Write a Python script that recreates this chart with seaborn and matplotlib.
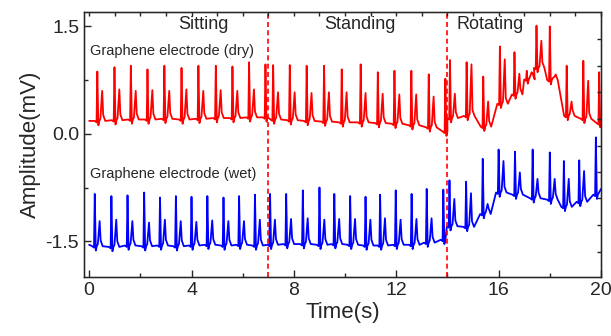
import numpy as np
import pandas as pd
import matplotlib
matplotlib.use("Agg")
import matplotlib.pyplot as plt
import seaborn as sns

# ---------------- data ----------------
# red trace: Graphene electrode (dry)
red_r_time = [0.32, 0.99, 1.63, 2.28, 2.94, 3.61, 4.27, 4.95, 5.60, 6.25, 6.89,
              7.19, 7.84, 8.50, 9.18, 9.87, 10.61, 11.28, 11.93, 12.59, 13.27, 13.92,
              14.10, 14.75, 15.40, 16.05, 16.62, 17.10, 17.48, 18.00, 18.66, 19.31, 19.93]
red_r_amp = [0.87, 0.93, 0.95, 0.90, 0.95, 0.92, 0.95, 0.95, 0.94, 1.00, 0.97,
             0.96, 0.96, 0.95, 0.95, 0.90, 0.97, 0.86, 0.88, 0.88, 0.83, 0.77,
             1.03, 1.00, 0.80, 1.22, 1.14, 0.88, 1.51, 1.50, 0.95, 1.02, 0.86]
red_t_amp = [0.60, 0.62, 0.60, 0.61, 0.60, 0.62, 0.60, 0.61, 0.60, 0.62, np.nan,
             0.58, 0.58, 0.57, 0.58, 0.58, 0.57, 0.56, 0.55, 0.55, 0.52, np.nan,
             0.56, 0.97, 0.45, 1.04, 0.84, 0.86, 1.30, 0.80, 0.45, 0.74, np.nan]
red_base = [0.18, 0.19, 0.20, 0.20, 0.21, 0.20, 0.21, 0.22, 0.22, 0.23, 0.23,
            0.20, 0.19, 0.18, 0.17, 0.16, 0.16, 0.15, 0.14, 0.12, 0.09, 0.03,
            0.22, 0.25, 0.10, 0.42, 0.55, 0.76, 0.92, 0.75, 0.25, 0.21, 0.15]
red_start, red_end = 0.18, 0.11

# blue trace: Graphene electrode (wet)
blue_r_time = [0.22, 0.87, 1.50, 2.15, 2.77, 3.39, 4.00, 4.62, 5.25, 5.86, 6.48,
               7.07, 7.70, 8.35, 9.00, 9.58, 10.20, 10.80, 11.37, 11.98, 12.60, 13.19, 13.84,
               14.08, 14.73, 15.38, 16.00, 16.64, 17.33, 18.00, 18.55, 19.15, 19.80]
blue_r_amp = [-0.84, -0.87, -0.86, -0.82, -0.89, -0.87, -0.88, -0.87, -0.89, -0.87, -0.85,
              -0.84, -0.84, -0.79, -0.75, -0.84, -0.87, -0.88, -0.85, -0.79, -0.84, -0.77, -0.78,
              -0.65, -0.67, -0.35, -0.22, -0.25, -0.22, -0.26, -0.38, -0.37, -0.05]
blue_t_amp = [-1.22, -1.20, -1.22, -1.24, -1.20, -1.22, -1.23, -1.21, -1.22, -1.22, -1.20,
              -1.20, -1.19, -1.18, -1.20, -1.19, -1.19, -1.20, -1.18, -1.20, -1.19, -1.18, np.nan,
              -0.91, -0.83, -0.98, -0.38, -0.54, -0.63, -0.63, -0.63, -0.52, np.nan]
blue_base = [-1.57, -1.58, -1.56, -1.57, -1.56, -1.57, -1.56, -1.55, -1.56, -1.55, -1.56,
             -1.55, -1.54, -1.54, -1.55, -1.54, -1.55, -1.56, -1.56, -1.55, -1.55, -1.52, -1.48,
             -1.29, -1.30, -1.12, -0.82, -0.85, -0.90, -0.92, -1.02, -0.95, -0.85]
blue_start, blue_end = -1.55, -0.77

phase_split = [7, 14]
phase_names = ["Sitting", "Standing", "Rotating"]
phase_label_x = [4.45, 10.59, 15.65]
trace_labels = ["Graphene electrode (dry)", "Graphene electrode (wet)"]

x_ticks = [0, 4, 8, 12, 16, 20]
y_ticks = [-1.5, 0.0, 1.5]


def build_trace(r_time, r_amp, t_amp, base, start, end):
    xs, ys = [0.0], [start]
    for t, r, tw, b in zip(r_time, r_amp, t_amp, base):
        xs += [t - 0.10, t - 0.03, t, t + 0.04, t + 0.08]
        ys += [b, b - 0.02, r, b - 0.06, b]
        if not np.isnan(tw):
            xs += [t + 0.12, t + 0.19, t + 0.23, t + 0.31]
            ys += [b + 0.03, tw, b + 0.08, b]
    xs.append(20.0)
    ys.append(end)
    return pd.DataFrame({"time": xs, "amp": ys})


red_df = build_trace(red_r_time, red_r_amp, red_t_amp, red_base, red_start, red_end)
blue_df = build_trace(blue_r_time, blue_r_amp, blue_t_amp, blue_base, blue_start, blue_end)

# ---------------- plotting ----------------
sns.set_style("ticks")
plt.rcParams["font.family"] = ["Liberation Sans", "DejaVu Sans"]
plt.rcParams["xtick.direction"] = "in"
plt.rcParams["ytick.direction"] = "in"

fig = plt.figure(figsize=(6.11, 3.36), dpi=100)
ax = fig.add_axes([0.1375, 0.1756, 0.8461, 0.7884])

sns.lineplot(data=red_df, x="time", y="amp", ax=ax, color="#ff0000", lw=1.3,
             estimator=None, sort=False)
sns.lineplot(data=blue_df, x="time", y="amp", ax=ax, color="#0000ff", lw=1.3,
             estimator=None, sort=False)

for xv in phase_split:
    ax.axvline(xv, color="#ff0000", lw=1.2, ls=(0, (3, 2)))

ax.set_xlim(-0.2, 20)
ax.set_ylim(-2.0, 1.7)
ax.set_xticks(x_ticks)
ax.set_xticks(np.arange(2, 20, 4), minor=True)
ax.set_yticks(y_ticks)
ax.set_yticklabels(["-1.5", "0.0", "1.5"])
ax.set_yticks([-0.75, 0.75], minor=True)
ax.tick_params(axis="both", which="major", labelsize=14, length=5, width=1.0)
ax.tick_params(axis="both", which="minor", length=3, width=1.0)
ax.set_xlabel("Time(s)", fontsize=16, labelpad=2)
ax.set_ylabel("Amplitude(mV)", fontsize=16, labelpad=3)
for s in ax.spines.values():
    s.set_linewidth(1.0)
    s.set_visible(True)

# top and right tick marks (no labels)
axt = ax.twiny()
axt.set_xlim(ax.get_xlim())
axt.set_xticks(np.arange(0, 21, 1))
axt.set_xticklabels([])
axt.tick_params(axis="x", direction="in", length=3, width=1.0)
axr = ax.twinx()
axr.set_ylim(ax.get_ylim())
axr.set_yticks([-1.65, -1.27, -0.90, -0.54, -0.17, 0.21, 0.58, 0.95, 1.32])
axr.set_yticklabels([])
axr.tick_params(axis="y", direction="in", length=3, width=1.0)

for name, xv in zip(phase_names, phase_label_x):
    ax.text(xv, 1.53, name, fontsize=13, ha="center", va="center")
ax.text(0.04, 1.16, trace_labels[0], fontsize=10.5, ha="left", va="center")
ax.text(0.04, -0.56, trace_labels[1], fontsize=10.5, ha="left", va="center")

fig.savefig("out.png", dpi=100)
